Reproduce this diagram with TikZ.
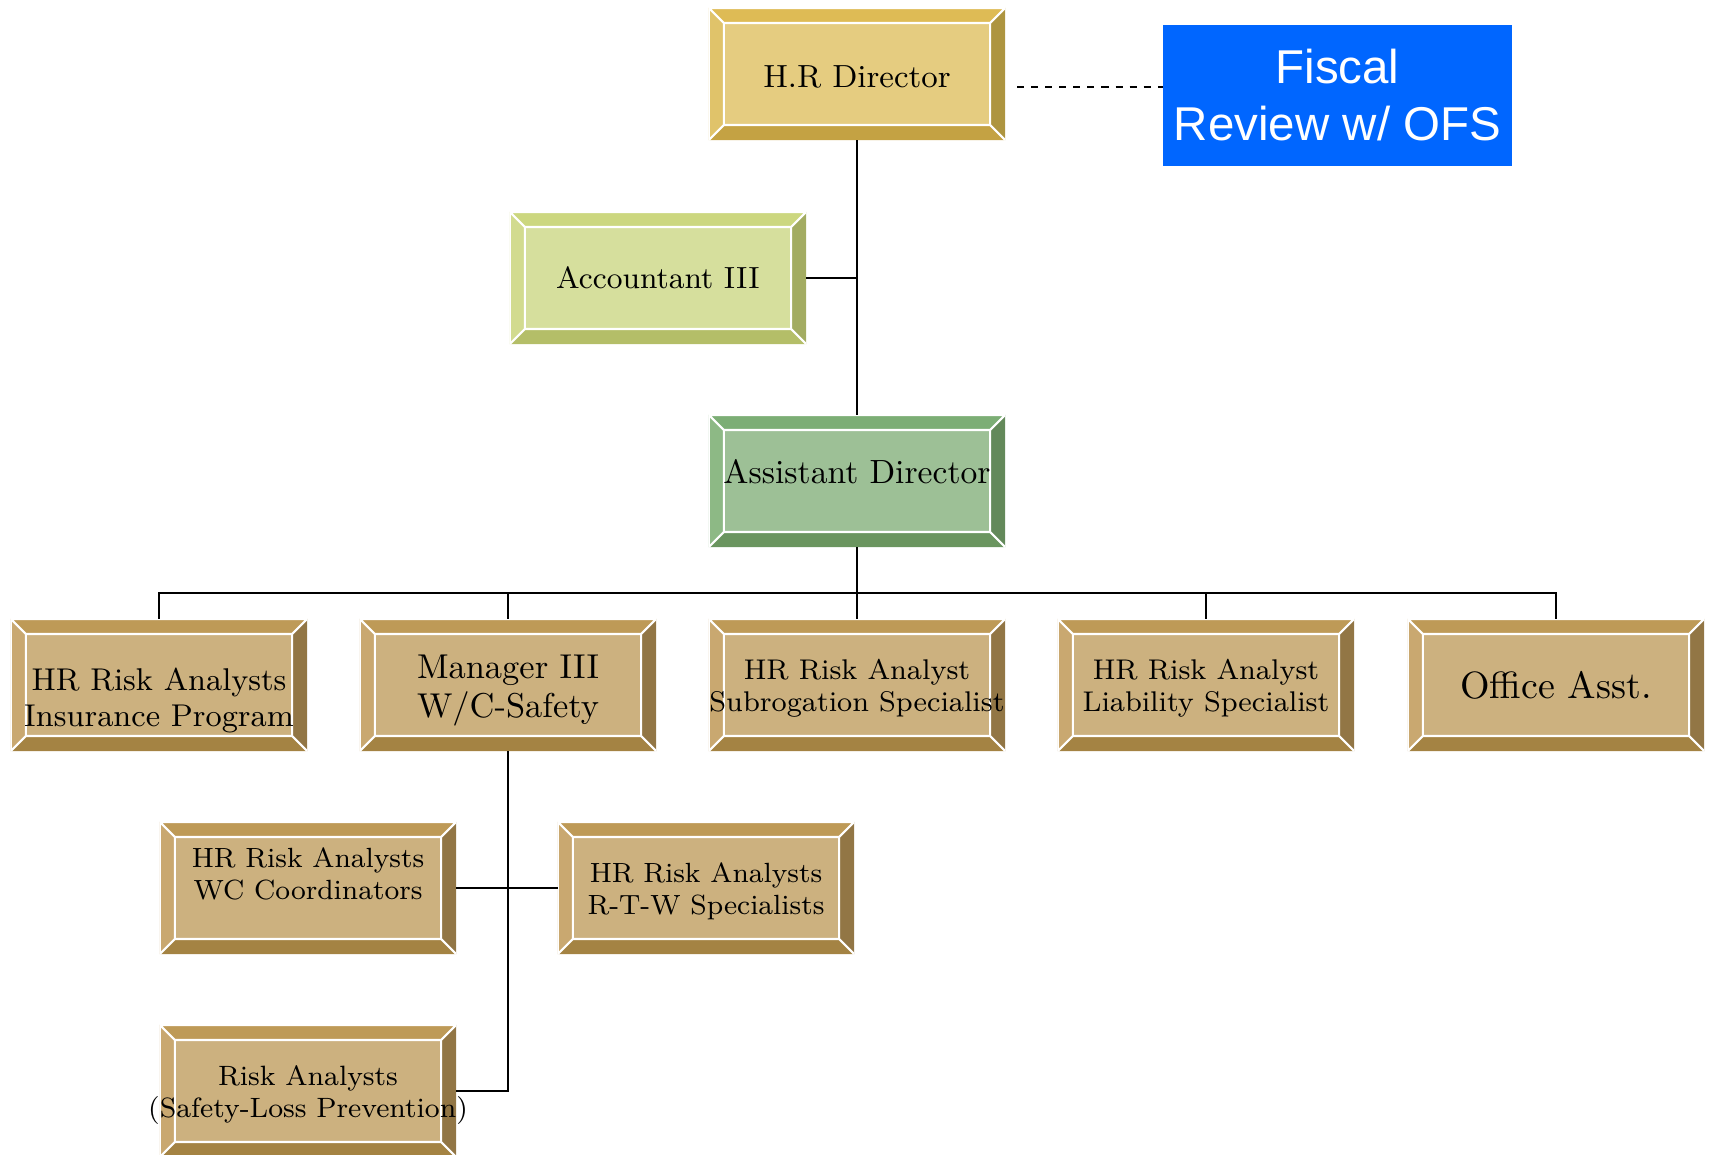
\documentclass[tikz,border=0pt]{standalone}
\usepackage{fontspec}
\newfontfamily\fiscalfont{Liberation Sans}
\usetikzlibrary{calc}

\definecolor{goldface}{HTML}{E5CC80}
\definecolor{goldtop}{HTML}{DEBB55}
\definecolor{goldleft}{HTML}{E0C36A}
\definecolor{goldright}{HTML}{AE9540}
\definecolor{goldbot}{HTML}{C4A243}
\definecolor{limeface}{HTML}{D6DF9D}
\definecolor{limetop}{HTML}{CCD77F}
\definecolor{limeleft}{HTML}{D2DB8F}
\definecolor{limeright}{HTML}{A3AC62}
\definecolor{limebot}{HTML}{B4BE68}
\definecolor{sageface}{HTML}{9DC096}
\definecolor{sagetop}{HTML}{7CAE75}
\definecolor{sageleft}{HTML}{8DB985}
\definecolor{sageright}{HTML}{63895A}
\definecolor{sagebot}{HTML}{6A955F}
\definecolor{tanface}{HTML}{CCB17F}
\definecolor{tantop}{HTML}{BE9A57}
\definecolor{tanleft}{HTML}{C9A870}
\definecolor{tanright}{HTML}{927645}
\definecolor{tanbot}{HTML}{A48343}
\definecolor{fiscalblue}{HTML}{0066FF}

\newcommand{\bevw}{0.15cm}
\newcommand{\boxfs}[2]{\fontsize{#1}{#2}\selectfont}
% text block moved up/down inside its box
\newcommand{\lift}[2]{\raisebox{#1}[\height][\depth]{\begin{tabular}{@{}c@{}}#2\end{tabular}}}

\begin{document}
\begin{tikzpicture}[x=0.01cm, y=-0.01cm]
    \tikzset{box/.style={rectangle, minimum width=2.96cm, minimum height=1.32cm,
            inner sep=0pt, outer sep=0pt, align=center},
        bevel/.style n args={5}{fill=#1, path picture={
            \coordinate (bNW) at (path picture bounding box.north west);
            \coordinate (bNE) at (path picture bounding box.north east);
            \coordinate (bSW) at (path picture bounding box.south west);
            \coordinate (bSE) at (path picture bounding box.south east);
            \coordinate (iNW) at ([xshift=\bevw,yshift=-\bevw]bNW);
            \coordinate (iNE) at ([xshift=-\bevw,yshift=-\bevw]bNE);
            \coordinate (iSW) at ([xshift=\bevw,yshift=\bevw]bSW);
            \coordinate (iSE) at ([xshift=-\bevw,yshift=\bevw]bSE);
            \fill[#2] (bNW) -- (bNE) -- (iNE) -- (iNW) -- cycle;
            \fill[#3] (bNW) -- (iNW) -- (iSW) -- (bSW) -- cycle;
            \fill[#4] (bNE) -- (bSE) -- (iSE) -- (iNE) -- cycle;
            \fill[#5] (bSW) -- (iSW) -- (iSE) -- (bSE) -- cycle;
            \draw[white, line width=0.6pt] (iNW) rectangle (iSE)
                (bNW) -- (iNW) (bNE) -- (iNE) (bSW) -- (iSW) (bSE) -- (iSE)
                (bSW) -- (bNW) -- (bNE);
        }},
        gold/.style={box, bevel={goldface}{goldtop}{goldleft}{goldright}{goldbot}},
        lime/.style={box, bevel={limeface}{limetop}{limeleft}{limeright}{limebot}},
        sage/.style={box, bevel={sageface}{sagetop}{sageleft}{sageright}{sagebot}},
        tan/.style={box, bevel={tanface}{tantop}{tanleft}{tanright}{tanbot}},
        link/.style={draw=black, line width=0.5pt}}
    \useasboundingbox (0,0) rectangle (1711,1155);

    %Leitung
    \node[gold, font=\boxfs{9.1pt}{11pt}] (hrdir) at (857,74) {\lift{-0.06cm}{H.R Director}};
    \node[fill=fiscalblue, text=white, minimum width=3.49cm, minimum height=1.41cm,
        inner sep=0pt, outer sep=0pt, align=center,
        font=\fiscalfont\boxfs{13.5pt}{16.2pt}] (fiscal) at (1337.5,95.5) {Fiscal\\Review w/ OFS};
    \node[lime, font=\boxfs{8.7pt}{10.5pt}] (acct) at (658,278) {Accountant III};
    \node[sage, font=\boxfs{9.55pt}{11pt}] (asst) at (857,481) {\lift{0.05cm}{Assistant Director}};

    %Reihe
    \node[tan, font=\boxfs{8.95pt}{10.3pt}] (ins) at (159,685) {\lift{-0.16cm}{HR Risk Analysts\\Insurance Program}};
    \node[tan, font=\boxfs{9.8pt}{11.1pt}] (mgr) at (508,685) {\lift{-0.05cm}{Manager III\\W/C-Safety}};
    \node[tan, font=\boxfs{8.1pt}{9.1pt}] (subro) at (857,685) {\lift{-0.04cm}{HR Risk Analyst\\Subrogation Specialist}};
    \node[tan, font=\boxfs{8.1pt}{9.1pt}] (liab) at (1206,685) {\lift{-0.04cm}{HR Risk Analyst\\Liability Specialist}};
    \node[tan, font=\boxfs{10.8pt}{12pt}] (office) at (1556,685) {Office Asst.};

    %Sicherheit
    \node[tan, font=\boxfs{7.9pt}{9.1pt}] (wc) at (308,888) {\lift{0.11cm}{HR Risk Analysts\\WC Coordinators}};
    \node[tan, font=\boxfs{7.9pt}{9.1pt}] (rtw) at (706,888) {\lift{-0.04cm}{HR Risk Analysts\\R-T-W Specialists}};
    \node[tan, inner xsep=-10pt, font=\boxfs{7.95pt}{9.1pt}] (risk) at (308,1091) {\lift{-0.04cm}{Risk Analysts\\(Safety-Loss Prevention)}};

    %Linien
    \draw[link] (hrdir.south) -- (asst.north);
    \draw[link] (acct.east) -- (acct.east -| hrdir.south);
    \draw[link, dash pattern=on 2pt off 2pt] ([shift={(12,13)}]hrdir.east) coordinate (dstart) -- (dstart -| fiscal.west);
    \foreach \n in {ins,mgr,subro,liab,office}
        \draw[link] (\n.north) -- ++(0,-26) -| (asst.south);
    \draw[link] (mgr.south) |- (risk.east);
    \draw[link] (wc.east) -- (rtw.west);

\end{tikzpicture}
\end{document}
